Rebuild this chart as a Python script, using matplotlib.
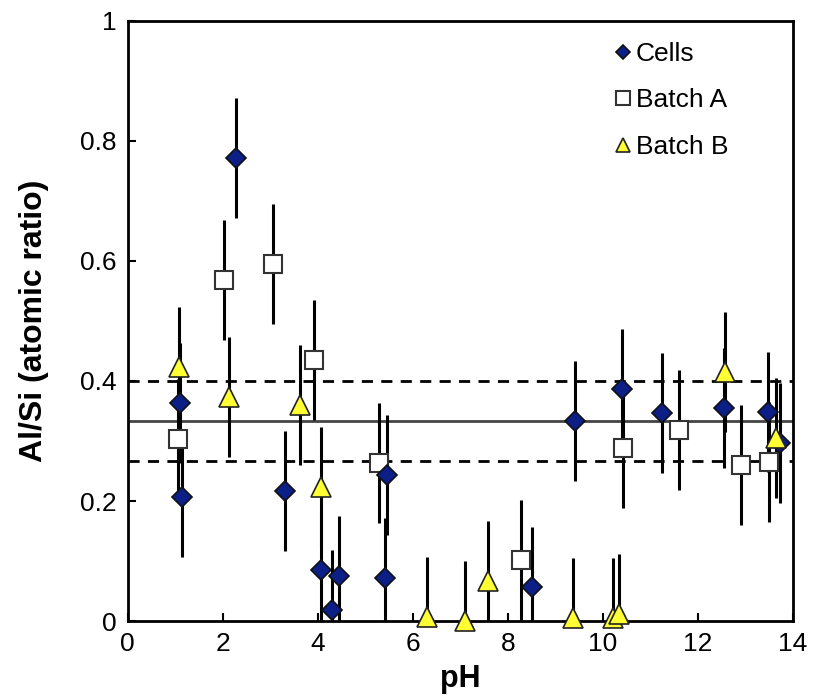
import numpy as np
import matplotlib.pyplot as plt

plt.rcParams['font.family'] = ['Liberation Sans', 'DejaVu Sans']

# Cells
cells_ph = [1.09, 1.14, 2.27, 3.31, 4.06, 4.29, 4.44, 5.41, 5.45, 8.50, 9.41, 10.40, 11.24, 12.55, 13.47, 13.73]
cells_r = [0.363, 0.207, 0.772, 0.217, 0.085, 0.018, 0.075, 0.072, 0.243, 0.057, 0.333, 0.387, 0.347, 0.355, 0.348, 0.297]

# Batch A
a_ph = [1.05, 2.02, 3.05, 3.92, 5.28, 8.27, 10.42, 11.60, 12.90, 13.50]
a_r = [0.303, 0.568, 0.595, 0.435, 0.263, 0.102, 0.288, 0.318, 0.260, 0.265]

# Batch B
b_ph = [1.07, 2.13, 3.62, 4.06, 6.29, 7.09, 7.58, 9.37, 10.21, 10.34, 12.57, 13.64]
b_r = [0.423, 0.373, 0.360, 0.223, 0.007, 0.0, 0.067, 0.005, 0.005, 0.012, 0.415, 0.305]

err = 0.1
ideal = 1 / 3
upper, lower = 0.4, 0.267

fig = plt.figure(figsize=(8.19, 6.97), dpi=100)
ax = fig.add_axes([0.156, 0.109, 0.812, 0.861])

ax.axhline(ideal, color='#444444', lw=2, zorder=1)
ax.axhline(upper, color='black', lw=2, ls=(0, (4, 3)), zorder=1)
ax.axhline(lower, color='black', lw=2, ls=(0, (4, 3)), zorder=1)

for x, y in [(cells_ph, cells_r), (a_ph, a_r), (b_ph, b_r)]:
    ax.errorbar(x, y, yerr=err, fmt='none', ecolor='black', elinewidth=2.2, capsize=0, zorder=2)

ax.plot(a_ph, a_r, 's', ms=13.5, mfc='white', mec='#333333', mew=1.5, label='Batch A', zorder=3, clip_on=False)
ax.plot(cells_ph, cells_r, 'D', ms=10, mfc='#0b1f86', mec='#111111', mew=1.2, label='Cells', zorder=4, clip_on=False)
ax.plot(b_ph, b_r, '^', ms=14, mfc='#ffff33', mec='#222222', mew=1.2, label='Batch B', zorder=5, clip_on=False)

ax.set_xlim(0, 14)
ax.set_ylim(0, 1)
ax.set_xticks([0, 2, 4, 6, 8, 10, 12, 14])
ax.set_yticks([0, 0.2, 0.4, 0.6, 0.8, 1])
ax.set_yticklabels(['0', '0.2', '0.4', '0.6', '0.8', '1'])
ax.tick_params(direction='in', length=6, width=1.5, labelsize=19, pad=8)
for s in ax.spines.values():
    s.set_linewidth(2)

ax.set_xlabel('pH', fontsize=22, fontweight='bold', labelpad=6)
ax.set_ylabel('Al/Si (atomic ratio)', fontsize=23, fontweight='bold', labelpad=22)

h, l = ax.get_legend_handles_labels()
order = [1, 0, 2]
ax.legend([h[i] for i in order], [l[i] for i in order], loc='upper right', frameon=False,
          fontsize=19, handletextpad=0.0, handlelength=1.0, borderaxespad=0.4, labelspacing=0.85,
          markerscale=0.75, bbox_to_anchor=(0.935, 1.0))

fig.savefig('out.png', dpi=100)
